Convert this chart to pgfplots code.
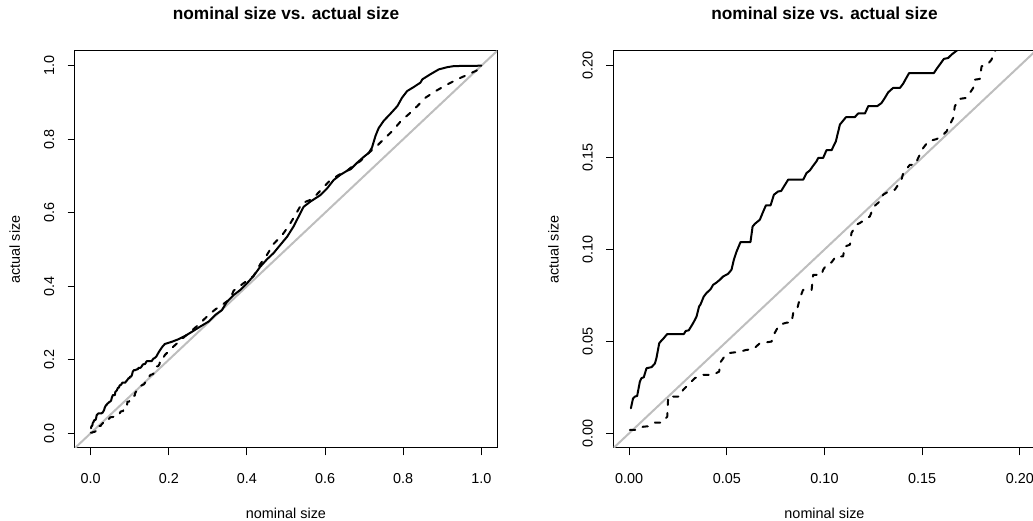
\documentclass[border=0pt]{standalone}
\usepackage{pgfplots}
\pgfplotsset{compat=1.18}
\usepackage{pgfplotstable}
\usepackage{fontspec}
\setmainfont{Liberation Sans}

\pgfplotstableread{
x y
0.0009 0.0136
0.002 0.019
0.003 0.020
0.0041 0.0203
0.0055 0.0281
0.0063 0.030
0.0075 0.0305
0.0089 0.0354
0.0115 0.036
0.0132 0.038
0.014 0.041
0.0154 0.049
0.0166 0.0505
0.0171 0.051
0.0195 0.054
0.028 0.054
0.029 0.0557
0.0305 0.056
0.0328 0.060
0.0345 0.0635
0.0358 0.069
0.0365 0.070
0.0382 0.0744
0.0396 0.0763
0.0417 0.0784
0.043 0.0808
0.0447 0.082
0.0464 0.0835
0.0481 0.0853
0.0507 0.0868
0.0524 0.089
0.0536 0.0944
0.055 0.0989
0.057 0.104
0.0621 0.104
0.0632 0.1125
0.0644 0.114
0.0669 0.1162
0.0683 0.1198
0.070 0.124
0.0724 0.124
0.0741 0.1298
0.0763 0.1316
0.0778 0.1318
0.0814 0.138
0.0891 0.138
0.0908 0.1416
0.0925 0.143
0.0942 0.1456
0.0959 0.148
0.0968 0.1498
0.0993 0.1498
0.101 0.154
0.1036 0.154
0.1058 0.1588
0.1079 0.168
0.111 0.172
0.1155 0.172
0.1172 0.174
0.1207 0.174
0.1224 0.178
0.127 0.178
0.1292 0.1797
0.1309 0.1825
0.1326 0.1855
0.1351 0.1879
0.1386 0.1879
0.1403 0.1903
0.1416 0.1928
0.1433 0.196
0.156 0.196
0.1574 0.1983
0.159 0.2006
0.1611 0.2037
0.1633 0.2042
0.165 0.206
0.1662 0.207
0.1679 0.2084
0.175 0.222
0.184 0.236
0.19 0.243
0.208 0.249
0.225 0.256
0.242 0.265
0.259 0.276
0.280 0.29
0.302 0.304
0.319 0.322
0.336 0.335
0.349 0.358
0.366 0.376
0.383 0.39
0.4 0.408
0.417 0.428
0.434 0.453
0.451 0.473
0.468 0.49
0.485 0.512
0.503 0.535
0.519 0.562
0.532 0.589
0.545 0.616
0.562 0.63
0.588 0.648
0.605 0.666
0.622 0.689
0.639 0.703
0.656 0.714
0.665 0.718
0.682 0.736
0.699 0.752
0.712 0.763
0.72 0.777
0.729 0.809
0.737 0.83
0.75 0.85
0.767 0.869
0.785 0.89
0.797 0.913
0.81 0.931
0.827 0.942
0.844 0.954
0.849 0.963
0.87 0.977
0.891 0.99
0.913 0.996
0.93 0.999
1.0 1.0
}\solid

\pgfplotstableread{
x y
0.0004 0.0018
0.0038 0.0018
0.0072 0.0036
0.0097 0.0038
0.0132 0.0058
0.0166 0.0058
0.0195 0.009
0.020 0.020
0.026 0.020
0.0276 0.0236
0.0302 0.0263
0.0336 0.030
0.0379 0.0318
0.043 0.0318
0.0461 0.0336
0.0464 0.0381
0.049 0.0421
0.0507 0.0436
0.0567 0.0444
0.0601 0.0454
0.0635 0.0457
0.0669 0.049
0.0729 0.0499
0.0737 0.053
0.0768 0.059
0.0806 0.0602
0.0831 0.0602
0.084 0.0654
0.0857 0.0663
0.0874 0.0735
0.089 0.078
0.0934 0.078
0.0942 0.0862
0.0985 0.0862
0.0993 0.089
0.1014 0.0922
0.1036 0.093
0.1058 0.0962
0.1095 0.0962
0.1104 0.1016
0.113 0.1026
0.1138 0.109
0.1164 0.1135
0.1181 0.1144
0.1232 0.118
0.1253 0.1234
0.1292 0.127
0.13 0.1298
0.1343 0.1325
0.136 0.1325
0.1394 0.138
0.1403 0.1416
0.1437 0.1461
0.1463 0.1461
0.1488 0.1516
0.1505 0.1552
0.1531 0.1588
0.1574 0.1601
0.1599 0.1616
0.1625 0.1643
0.1633 0.1661
0.1659 0.1716
0.1667 0.1779
0.1689 0.1819
0.1727 0.1825
0.1761 0.1879
0.177 0.1924
0.1795 0.1928
0.1804 0.1997
0.183 0.2001
0.1855 0.2033
0.1863 0.206
0.1872 0.2078
0.19 0.213
0.212 0.236
0.233 0.256
0.255 0.276
0.276 0.295
0.297 0.317
0.319 0.337
0.336 0.349
0.357 0.365
0.366 0.388
0.391 0.408
0.417 0.428
0.434 0.46
0.451 0.485
0.468 0.515
0.49 0.539
0.507 0.564
0.524 0.594
0.541 0.626
0.567 0.637
0.588 0.66
0.609 0.684
0.635 0.703
0.656 0.714
0.665 0.722
0.691 0.741
0.712 0.763
0.733 0.782
0.75 0.8
0.772 0.822
0.793 0.848
0.814 0.868
0.836 0.89
0.857 0.913
0.883 0.931
0.913 0.949
0.938 0.963
0.968 0.977
0.994 0.99
1.0 1.0
}\dashed

\definecolor{rgray}{HTML}{BEBEBE}

\pgfplotsset{
  rstyle/.style={
    scale only axis,
    width=316.5pt, height=297.75pt,
    anchor=south west,
    axis line style={black, line width=0.75pt},
    tick align=outside,
    major tick length=5.6pt,
    tick style={black, line width=0.75pt},
    xtick pos=bottom, ytick pos=left,
    /pgf/number format/assume math mode=true,
    tick label style={font=\fontsize{10.8pt}{12pt}\selectfont},
    xticklabel style={anchor=base},
    xticklabel shift=20.7pt,
    yticklabel style={rotate=90, anchor=base},
    yticklabel shift=10.1pt,
    scaled ticks=false,
    clip=true,
  },
  solidline/.style={black, line width=1.5pt, line join=round, line cap=round},
  dashline/.style={black, line width=1.5pt, line join=round, line cap=round, dash pattern=on 4pt off 6pt},
  diagline/.style={rgray, line width=1.5pt},
}

\begin{document}
\begin{tikzpicture}
\path[use as bounding box] (0pt,0pt) rectangle (774.75pt,390.75pt);

\begin{axis}[rstyle, at={(56.25pt,54.75pt)},
  xmin=-0.04, xmax=1.04, ymin=-0.04, ymax=1.04,
  xtick={0,0.2,0.4,0.6,0.8,1.0}, ytick={0,0.2,0.4,0.6,0.8,1.0},
  /pgf/number format/.cd, fixed, fixed zerofill, precision=1]
\addplot[diagline] coordinates {(-0.04,-0.04) (1.04,1.04)};
\addplot[solidline] table[x=x,y=y] {\solid};
\addplot[dashline] table[x=x,y=y] {\dashed};
\end{axis}

\begin{axis}[rstyle, at={(460.125pt,54.75pt)},
  xmin=-0.008, xmax=0.208, ymin=-0.008, ymax=0.208,
  xtick={0,0.05,0.1,0.15,0.2}, ytick={0,0.05,0.1,0.15,0.2},
  /pgf/number format/.cd, fixed, fixed zerofill, precision=2]
\addplot[diagline] coordinates {(-0.008,-0.008) (0.208,0.208)};
\addplot[solidline] table[x=x,y=y] {\solid};
\addplot[dashline] table[x=x,y=y] {\dashed};
\end{axis}

\node[anchor=base, font=\fontsize{12.96pt}{15pt}\selectfont\bfseries] at (214.5pt,375.75pt) {nominal size vs. actual size};
\node[anchor=base, font=\fontsize{12.96pt}{15pt}\selectfont\bfseries] at (618.375pt,375.75pt) {nominal size vs. actual size};
\node[anchor=base, font=\fontsize{10.8pt}{12pt}\selectfont] at (214.5pt,1.875pt) {nominal size};
\node[anchor=base, font=\fontsize{10.8pt}{12pt}\selectfont] at (618.375pt,1.875pt) {nominal size};
\node[anchor=base, rotate=90, font=\fontsize{10.8pt}{12pt}\selectfont] at (15pt,203.625pt) {actual size};
\node[anchor=base, rotate=90, font=\fontsize{10.8pt}{12pt}\selectfont] at (418.875pt,203.625pt) {actual size};
\end{tikzpicture}
\end{document}
